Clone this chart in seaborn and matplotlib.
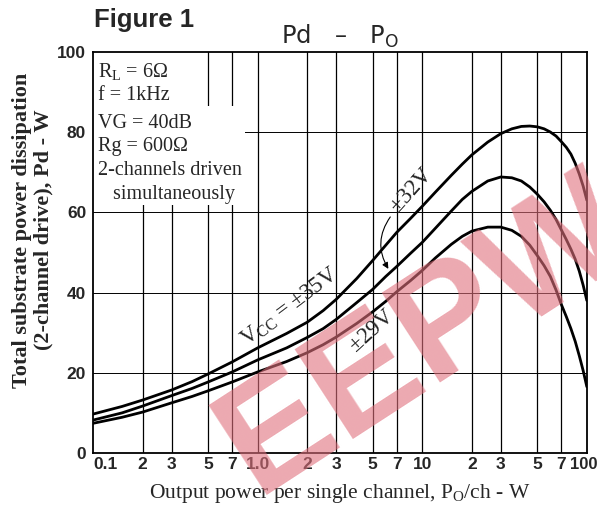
import numpy as np
import pandas as pd
import matplotlib
matplotlib.use("Agg")
import matplotlib.pyplot as plt
import matplotlib.transforms as mtransforms
import seaborn as sns

# output power per channel (W)
po = [0.1, 0.15, 0.2, 0.3, 0.4, 0.5, 0.7, 1, 1.5, 2, 2.5, 3, 4, 5, 6, 7, 8.5,
      10, 12, 15, 17.5, 20, 25, 30, 35, 40, 45, 50, 55, 60, 65, 70, 75, 80,
      85, 90, 95, 100]
# total dissipation Pd (W) per supply voltage
pd_35v = [9.7, 11.6, 13.2, 15.7, 17.8, 19.7, 22.7, 26.2, 29.8, 32.6, 35.5,
          38.3, 43.5, 48, 51.8, 55, 58.5, 61.5, 65, 69.2, 72, 74.3, 77.5,
          79.6, 80.8, 81.4, 81.5, 81.3, 80.8, 80, 79, 77.6, 76.2, 74.5, 72.2,
          69.5, 66.5, 63]
pd_32v = [8.2, 10.0, 11.7, 14.3, 16.1, 17.7, 20.2, 23.2, 26.2, 28.8, 31,
          33.3, 37.5, 40.8, 44, 46.5, 49.8, 52.5, 56, 60.3, 63.2, 65.2, 67.8,
          68.8, 68.6, 67.8, 66.3, 64.5, 62.6, 60.5, 58.2, 55.6, 53.2, 50.8,
          48.3, 45.3, 41.8, 38]
pd_29v = [7.4, 8.9, 10.2, 12.5, 14.1, 15.5, 17.7, 20.2, 22.8, 25, 27, 28.9,
          32.3, 35.2, 37.8, 40.2, 43, 45.5, 48.6, 52, 54, 55.3, 56.3, 56.3,
          55.5, 54, 51.8, 49.2, 46.7, 44, 40.6, 37, 34, 31, 27.8, 24.2, 20.5,
          16.5]

x_ticks = [0.1, 0.2, 0.3, 0.5, 0.7, 1, 2, 3, 5, 7, 10, 20, 30, 50, 70, 100]
x_ticklabels = ["0.1", "2", "3", "5", "7", "1.0", "2", "3", "5", "7", "10",
                "2", "3", "5", "7", "100"]
y_ticks = [0, 20, 40, 60, 80, 100]

sns.set_style("white")
plt.rcParams["font.family"] = ["Liberation Serif", "DejaVu Serif"]
plt.rcParams["mathtext.fontset"] = "custom"
plt.rcParams["mathtext.rm"] = "Liberation Serif"
plt.rcParams["mathtext.it"] = "Liberation Serif"

fig = plt.figure(figsize=(5.97, 5.13), dpi=100)
ax = fig.add_axes([0.156, 0.117, 0.827, 0.782])

df = pd.DataFrame({"po": po * 3,
                   "pd": pd_35v + pd_32v + pd_29v,
                   "vcc": ["35"] * len(po) + ["32"] * len(po) + ["29"] * len(po)})
sns.lineplot(data=df, x="po", y="pd", hue="vcc", palette=["black"] * 3,
             linewidth=2.0, legend=False, ax=ax, zorder=3)

ax.set_xscale("log")
ax.set_xlim(0.1, 100)
ax.set_ylim(0, 100)

for xv in x_ticks[1:-1]:
    ax.axvline(xv, color="black", lw=0.9, zorder=1)
for yv in y_ticks[1:-1]:
    ax.axhline(yv, color="black", lw=0.7, zorder=1)

ax.set_xticks(x_ticks)
ax.set_xticklabels(x_ticklabels)
ax.minorticks_off()
ax.set_yticks(y_ticks)
ax.tick_params(axis="x", length=0, pad=3)
ax.tick_params(axis="y", length=0, pad=5)
for lab in ax.get_xticklabels() + ax.get_yticklabels():
    lab.set_family("Liberation Sans")
    lab.set_fontweight("bold")
    lab.set_fontsize(12.5)
ax.get_xticklabels()[0].set_horizontalalignment("left")
last = ax.get_xticklabels()[-1]
last.set_fontsize(12)
last.set_transform(last.get_transform() +
                   mtransforms.ScaledTranslation(-2 / 72, 0, fig.dpi_scale_trans))
for s in ax.spines.values():
    s.set_color("black")
    s.set_linewidth(1.3)

ax.set_xlabel("Output power per single channel, P$_\\mathrm{O}$/ch - W",
              fontsize=15.5, labelpad=7)
ax.set_ylabel("Total substrate power dissipation\n(2-channel drive), Pd - W",
              fontsize=16, fontweight="bold", linespacing=1.1)
ax.yaxis.set_label_coords(-0.08, 0.556)

# white area behind the condition text
ax.fill_between([0.1, 0.39], 61.8, 100, color="white", lw=0, zorder=2)
ax.fill_between([0.1, 0.84], 61.8, 86.5, color="white", lw=0, zorder=2)
ax.text(0.107, 97.8, "R$_\\mathrm{L}$ = 6Ω\nf = 1kHz",
        fontsize=14.5, va="top", ha="left", linespacing=1.3, zorder=4)
ax.text(0.107, 84.6, "VG = 40dB\nRg = 600Ω\n2-channels driven\n   simultaneously",
        fontsize=14.5, va="top", ha="left", linespacing=1.35, zorder=4)

ax.text(1.57, 36.5, "V$_\\mathrm{CC}$ = ±35V", fontsize=16.5, rotation=37,
        ha="center", va="center", zorder=4)
ax.text(8.6, 65.5, "±32V", fontsize=16.5, rotation=48,
        ha="center", va="center", zorder=4)
ax.text(4.9, 30.5, "±29V", fontsize=16.5, rotation=42,
        ha="center", va="center", zorder=4)
ax.annotate("", xy=(6.35, 45.3), xytext=(6.54, 59.4),
            arrowprops=dict(arrowstyle="-|>", color="black", lw=0.8,
                            connectionstyle="arc3,rad=0.35", mutation_scale=9),
            zorder=4)

fig.text(0.158, 0.947, "Figure 1", fontsize=18.5, fontweight="bold",
         family="Liberation Sans", ha="left", va="baseline")
fig.text(0.57, 0.93, "Pd   –   P$_\\mathrm{O}$", fontsize=17.5,
         family="DejaVu Sans", ha="center", va="center",
         math_fontfamily="dejavusans")

# watermark
fig.text(0.715, 0.345, "EEPW", fontsize=112, fontweight="heavy",
         family="Liberation Sans", color="#e0707c", alpha=0.6,
         rotation=33, ha="center", va="center", zorder=10)

fig.savefig("out.png", dpi=100)
